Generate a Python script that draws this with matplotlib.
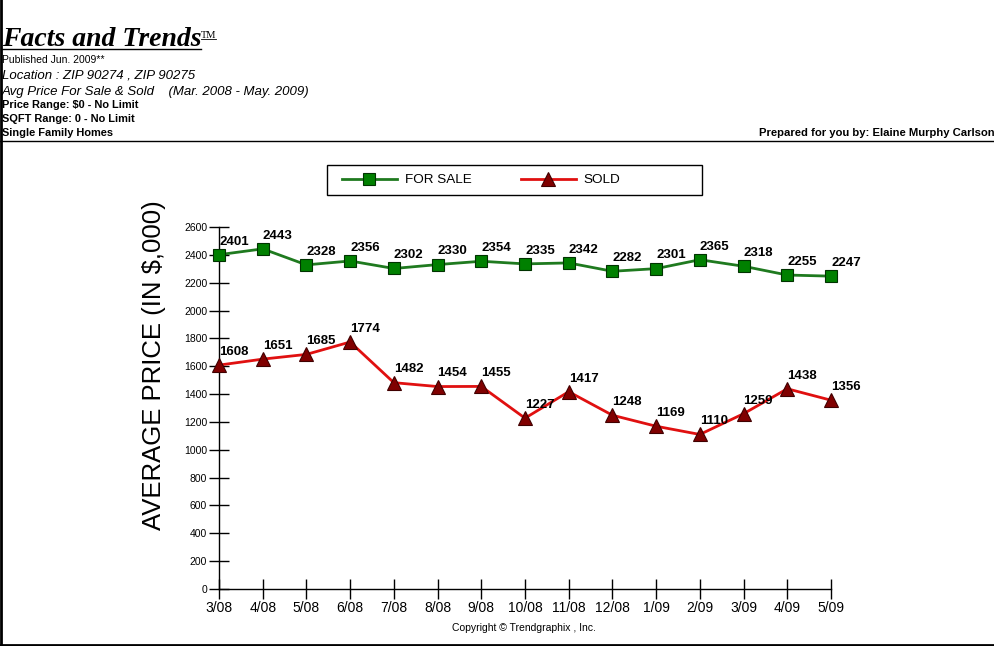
import matplotlib
matplotlib.use("Agg")
import matplotlib.pyplot as plt
from matplotlib.lines import Line2D
from matplotlib.patches import Rectangle

# --- data ---
months = ["3/08", "4/08", "5/08", "6/08", "7/08", "8/08", "9/08", "10/08",
          "11/08", "12/08", "1/09", "2/09", "3/09", "4/09", "5/09"]
for_sale = [2401, 2443, 2328, 2356, 2302, 2330, 2354, 2335, 2342, 2282,
            2301, 2365, 2318, 2255, 2247]
sold = [1608, 1651, 1685, 1774, 1482, 1454, 1455, 1227, 1417, 1248,
        1169, 1110, 1259, 1438, 1356]
y_ticks = list(range(0, 2601, 200))

W, H = 994, 646
SANS = "Liberation Sans"
SERIF = "Liberation Serif"


def fx(px):
    return px / W


def fy(py):
    return 1 - py / H


fig = plt.figure(figsize=(W / 100, H / 100), dpi=100)
fig.patch.set_facecolor("white")

# --- header block ---
fig.text(fx(2), fy(46), "Facts and Trends", family=SERIF, weight="bold",
         style="italic", fontsize=20, va="baseline")
fig.text(fx(201), fy(38), "TM", family=SERIF, fontsize=7.5, va="baseline")
fig.add_artist(Line2D([fx(2), fx(201)], [fy(49), fy(49)], color="black", lw=1))
fig.add_artist(Line2D([fx(201), fx(216)], [fy(39), fy(39)], color="black", lw=0.6))
fig.text(fx(2), fy(63), "Published Jun. 2009**", family=SANS, fontsize=7.5, va="baseline")
fig.text(fx(2), fy(78), "Location : ZIP 90274 , ZIP 90275", family=SANS,
         style="italic", fontsize=9.5, va="baseline")
fig.text(fx(2), fy(95), "Avg Price For Sale & Sold    (Mar. 2008 - May. 2009)",
         family=SANS, style="italic", fontsize=9.5, va="baseline")
fig.text(fx(2), fy(108), "Price Range: $0 - No Limit", family=SANS,
         weight="bold", fontsize=7.9, va="baseline")
fig.text(fx(2), fy(122), "SQFT Range: 0 - No Limit", family=SANS,
         weight="bold", fontsize=7.9, va="baseline")
fig.text(fx(2), fy(136), "Single Family Homes", family=SANS,
         weight="bold", fontsize=7.9, va="baseline")
fig.text(fx(759), fy(136), "Prepared for you by: Elaine Murphy Carlson",
         family=SANS, weight="bold", fontsize=8.1, va="baseline")

# frame lines
fig.add_artist(Line2D([0, 1], [fy(140.5), fy(140.5)], color="black", lw=1))
fig.add_artist(Line2D([fx(1), fx(1)], [0, 1], color="black", lw=2))
fig.add_artist(Line2D([0, 1], [fy(645), fy(645)], color="black", lw=2))

# --- chart ---
ax = fig.add_axes([fx(219), fy(589), fx(831) - fx(219), fy(227) - fy(589)])
x = list(range(len(months)))

ax.plot(x, for_sale, color="#1f7a1f", lw=2, marker="s", markersize=9,
        markerfacecolor="#008000", markeredgecolor="#003300",
        markeredgewidth=0.8, label="FOR SALE", zorder=3, clip_on=False)
ax.plot(x, sold, color="#e01010", lw=2, marker="^", markersize=9.5,
        markerfacecolor="#800000", markeredgecolor="#400000",
        markeredgewidth=0.8, label="SOLD", zorder=3, clip_on=False)

for xi, v in zip(x, for_sale):
    ax.annotate(str(v), (xi, v), xytext=(0, 9.5), textcoords="offset points",
                ha="left", va="center", fontsize=9.5, weight="bold",
                family=SANS, annotation_clip=False)
for xi, v in zip(x, sold):
    ax.annotate(str(v), (xi, v), xytext=(0, 9.5), textcoords="offset points",
                ha="left", va="center", fontsize=9.5, weight="bold",
                family=SANS, annotation_clip=False)

ax.set_xlim(0, len(months) - 1)
ax.set_ylim(0, 2600)
ax.set_xticks(x)
ax.set_xticklabels(months, family=SANS, fontsize=10)
ax.set_yticks(y_ticks)
ax.set_yticklabels([str(t) for t in y_ticks], family=SANS, fontsize=7.5)
ax.tick_params(axis="both", direction="inout", length=15, width=1, color="black")
ax.tick_params(axis="y", pad=1)
ax.tick_params(axis="x", pad=1)
for s in ["top", "right"]:
    ax.spines[s].set_visible(False)
for s in ["left", "bottom"]:
    ax.spines[s].set_linewidth(1)
ax.set_facecolor("white")

fig.text(fx(154), fy(365), "AVERAGE PRICE (IN $,000)", family=SANS,
         fontsize=18.5, rotation=90, ha="center", va="center")
fig.text(fx(524), fy(628), "Copyright \u00a9 Trendgraphix , Inc.", family=SANS,
         fontsize=7.5, ha="center", va="center")

# legend: box drawn separately (behind the axes), entries sit toward its left side
fig.add_artist(Rectangle((fx(327), fy(195)), fx(702) - fx(327), fy(165) - fy(195),
                         transform=fig.transFigure, facecolor="none",
                         edgecolor="black", lw=1, zorder=-1))
leg = ax.legend(loc="center left", bbox_to_anchor=(fx(342), fy(180)),
                bbox_transform=fig.transFigure, ncol=2, frameon=False,
                prop={"family": SANS, "size": 9.7},
                handlelength=4.08, columnspacing=3.64, handletextpad=0.6,
                borderpad=0, borderaxespad=0)

fig.savefig("out.png", dpi=100)
